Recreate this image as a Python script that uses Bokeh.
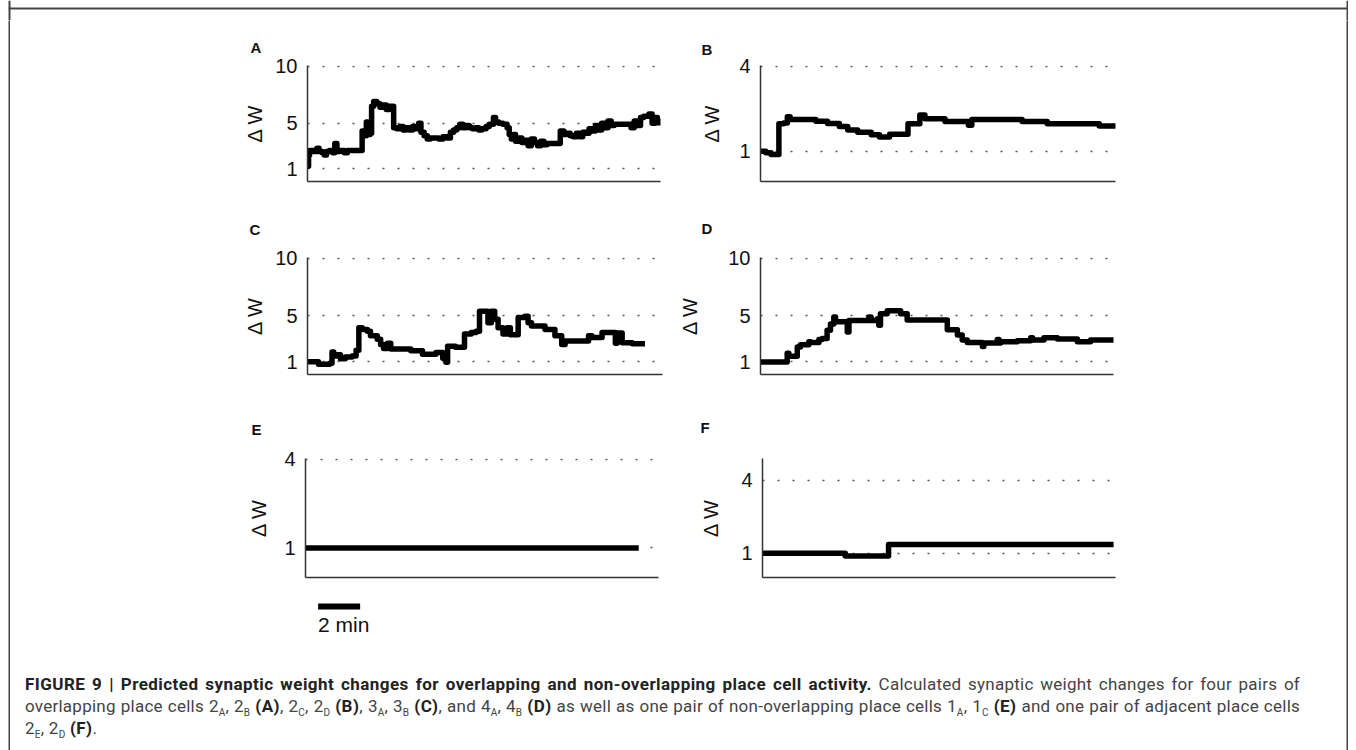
from bokeh.plotting import figure
from bokeh.models import Range1d, Title, Div
from bokeh.layouts import column, row
from bokeh.embed import file_html
from bokeh.resources import INLINE
from bokeh.core.properties import value

# ---------------- data (time in minutes, weight change ΔW) ----------------
a_t = [0.00, 0.05, 0.10, 0.30, 0.45, 0.55, 0.70, 0.80, 0.90, 1.05, 1.20, 1.30, 1.40, 1.55, 1.75,
       1.90, 2.10, 2.30, 2.45, 2.60, 2.70, 2.80, 2.88, 2.98, 3.05, 3.15, 3.30, 3.45, 3.60, 3.75,
       3.90, 4.10, 4.25, 4.40, 4.55, 4.70, 4.85, 5.00, 5.15, 5.29, 5.40, 5.55, 5.70, 5.85, 6.05,
       6.25, 6.45, 6.65, 6.80, 6.95, 7.10, 7.25, 7.40, 7.55, 7.70, 7.85, 8.00, 8.15, 8.30, 8.50,
       8.65, 8.85, 8.95, 9.10, 9.30, 9.50, 9.60, 9.70, 9.80, 9.90, 10.05, 10.20, 10.35, 10.50,
       10.65, 10.80, 10.95, 11.10, 11.25, 11.40, 11.55, 11.75, 11.95, 12.03, 12.20, 12.35, 12.50,
       12.65, 12.80, 12.95, 13.10, 13.25, 13.40, 13.55, 13.70, 13.85, 14.00, 14.15, 14.30, 14.45,
       14.60, 14.80, 15.00, 15.20, 15.40, 15.55, 15.70, 15.85, 16.00, 16.25, 16.40, 16.55, 16.65,
       16.75]
a_w = [1.2, 2.2, 2.6, 2.5, 2.8, 2.5, 2.4, 2.2, 2.5, 2.6, 2.4, 3.2, 2.5, 2.6, 2.4,
       2.6, 2.6, 2.6, 2.6, 4.3, 3.9, 5.1, 4.0, 4.1, 6.5, 6.9, 6.7, 6.4, 6.6, 6.2,
       6.5, 4.6, 4.5, 4.7, 4.4, 4.6, 4.4, 4.7, 4.5, 5.0, 4.2, 3.9, 3.6, 3.7, 3.7,
       3.6, 3.8, 3.7, 4.2, 4.4, 4.6, 4.9, 4.6, 4.8, 4.6, 4.5, 4.6, 4.4, 4.5, 4.7,
       4.9, 5.5, 5.1, 5.0, 4.9, 4.6, 4.0, 3.6, 4.0, 3.4, 3.7, 3.3, 3.5, 3.0,
       3.6, 3.3, 3.0, 3.4, 3.1, 3.2, 3.2, 3.2, 3.2, 4.3, 4.0, 4.1, 3.9,
       3.8, 4.1, 3.8, 4.2, 4.1, 4.5, 4.3, 4.8, 4.4, 5.0, 4.6, 5.2, 4.8,
       4.9, 4.9, 4.9, 4.9, 4.6, 5.2, 4.8, 5.5, 5.6, 5.8, 5.0, 5.5, 5.2,
       4.8]

b_t = [0.00, 0.25, 0.50, 0.87, 1.10, 1.27, 1.40, 2.62, 3.17, 3.73, 4.13, 4.60, 5.24, 5.63,
       6.11, 6.98, 7.54, 7.78, 8.73, 9.84, 10.00, 12.38, 13.57, 16.03, 16.83]
b_w = [1.00, 0.95, 0.88, 1.97, 2.00, 2.22, 2.12, 2.06, 1.98, 1.87, 1.75, 1.67, 1.58, 1.50,
       1.60, 1.97, 2.28, 2.15, 2.05, 1.92, 2.12, 2.05, 1.97, 1.89, 1.89]

c_t = [0.00, 0.52, 1.05, 1.16, 1.24, 1.40, 1.56, 1.79, 2.11, 2.30, 2.43, 2.59, 2.83, 2.98,
       3.30, 3.46, 3.60, 3.78, 3.94, 4.89, 5.44, 6.08, 6.40, 6.55, 6.63, 7.00, 7.43, 7.75,
       7.98, 8.14, 8.45, 8.54, 8.70, 8.86, 9.02, 9.25, 9.45, 9.60, 9.90, 9.97, 10.29, 10.44,
       10.60, 11.24, 11.71, 12.03, 12.19, 13.30, 13.46, 13.94, 14.57, 14.65, 14.89, 15.37,
       15.97]
c_w = [1.00, 0.78, 0.85, 1.85, 1.50, 1.60, 1.25, 1.40, 1.50, 2.00, 3.95, 3.80, 3.65, 3.25,
       2.95, 2.50, 2.15, 2.60, 2.10, 1.95, 1.65, 1.80, 1.30, 0.95, 2.35, 2.25, 3.40, 3.55,
       3.65, 5.40, 5.40, 4.40, 5.40, 4.70, 3.95, 3.40, 3.95, 3.35, 3.35, 4.85, 4.95, 4.40,
       4.10, 3.80, 3.25, 2.50, 2.80, 3.25, 3.10, 3.55, 2.60, 3.50, 2.65, 2.55,
       2.55]

d_t = [0.00, 1.27, 1.35, 1.75, 1.90, 2.30, 2.38, 2.78, 2.94, 3.17, 3.33, 3.49, 3.57, 4.13,
       4.21, 5.16, 5.26, 5.56, 5.63, 5.71, 6.03, 6.67, 6.98, 8.89, 9.37, 9.60, 9.84, 10.56,
       10.63, 11.27, 11.35, 11.43, 12.22, 12.86, 12.95, 13.49, 14.13, 15.08, 15.71, 16.83]
d_w = [1.00, 1.75, 1.50, 2.30, 2.50, 2.75, 2.70, 2.95, 3.05, 3.75, 4.30, 4.90, 4.50, 3.60,
       4.60, 4.90, 4.60, 4.75, 4.20, 5.20, 5.45, 5.20, 4.65, 3.80, 3.35, 2.90, 2.70, 2.35,
       2.65, 2.95, 2.65, 2.75, 2.85, 3.10, 2.90, 3.10, 3.00, 2.75, 2.90, 2.90]

e_t = [0.00, 15.86]
e_w = [1.00, 1.00]

f_t = [0.00, 3.94, 6.00, 16.71]
f_w = [1.00, 0.89, 1.36, 1.36]

ticks_10 = [1, 5, 10]
ticks_4 = [1, 4]
panel_labels = ["A", "B", "C", "D", "E", "F"]
y_label = "Δ W"
scale_bar_start = 0.6   # minutes
scale_bar_len = 2       # minutes
scale_bar_text = "2 min"

FONT = "Liberation Sans"
X_END = 16.8


def panel(label, t, w, yr, yticks, fw, fh, bl, br, bt, bb, lab_off, lab_stand, ylab_stand):
    p = figure(width=bl + fw + br, height=bt + fh + bb,
               x_range=Range1d(0, X_END), y_range=Range1d(*yr),
               output_backend="svg", toolbar_location=None,
               min_border_left=bl, min_border_right=br,
               min_border_top=bt, min_border_bottom=bb,
               outline_line_color=None, background_fill_color="white",
               border_fill_color="white")
    p.title = Title(text=label, align="left", offset=lab_off, standoff=lab_stand,
                    text_font=FONT, text_font_size="15px", text_font_style="bold",
                    text_color="#111")
    # y axis
    ya = p.yaxis[0]
    ya.ticker = yticks
    ya.major_tick_line_color = None
    ya.minor_tick_line_color = None
    ya.major_tick_out = 0
    ya.major_tick_in = 0
    ya.major_label_standoff = 10
    ya.major_label_text_font = FONT
    ya.major_label_text_font_size = "20px"
    ya.major_label_text_color = "#111"
    ya.axis_line_color = "#333"
    ya.axis_line_width = 1.5
    ya.axis_label = y_label
    ya.axis_label_text_font = FONT
    ya.axis_label_text_font_size = "20px"
    ya.axis_label_text_font_style = "normal"
    ya.axis_label_text_color = "#111"
    ya.axis_label_standoff = ylab_stand
    # x axis
    xa = p.xaxis[0]
    xa.ticker = []
    xa.major_tick_line_color = None
    xa.minor_tick_line_color = None
    xa.major_label_text_font_size = "0px"
    xa.axis_line_color = "#333"
    xa.axis_line_width = 1.5
    # grid
    p.xgrid.visible = False
    p.ygrid.grid_line_color = "#555"
    p.ygrid.grid_line_width = 1.5
    p.ygrid.grid_line_dash = "2 13"
    # trace
    p.step(t, w, mode="after", line_color="black", line_width=5.5, line_join="round")
    return p


# rows (page y): top strip 0..20, row 1 20..192, row 2 192..390, row 3 390..590
pA = panel(panel_labels[0], a_t, a_w, (-0.14, 10.08), ticks_10, 353, 116, 297, 10, 45, 11, -57, 19, 6)
pB = panel(panel_labels[1], b_t, b_w, (-0.07, 4.03), ticks_4, 355, 118, 90, 221, 43, 11, -59, 15, 13)
pC = panel(panel_labels[2], c_t, c_w, (-0.12, 10.08), ticks_10, 355, 117, 297, 8, 65, 16, -58, 40, 6)
pD = panel(panel_labels[3], d_t, d_w, (-0.09, 10.08), ticks_10, 353, 120, 90, 223, 62, 16, -59, 42, 24)
pE = panel(panel_labels[4], e_t, e_w, (0, 4.03), ticks_4, 353, 120, 295, 12, 67, 13, -54, 41, 11)
pF = panel(panel_labels[5], f_t, f_w, (0, 4.9), ticks_4, 353, 119, 92, 221, 68, 13, -62, 45, 16)

# scale bar panel (shares the time scale of panel E)
ps = figure(width=295 + 353 + 12, height=60, x_range=pE.x_range, y_range=Range1d(0, 60),
            output_backend="svg", toolbar_location=None,
            min_border_left=295, min_border_right=12, min_border_top=0, min_border_bottom=0,
            outline_line_color=None)
ps.axis.visible = False
ps.grid.visible = False
ps.segment(x0=[scale_bar_start], y0=[44], x1=[scale_bar_start + scale_bar_len], y1=[44],
           line_color="black", line_width=6)
ps.text(x=[scale_bar_start], y=[38], text=[scale_bar_text], text_font=value(FONT),
        text_font_size="21px", text_baseline="top", text_align="left", text_color="#111")

B = 'style="color:#222; letter-spacing:0.45px;"'
J = 'style="width:1275px; text-align:justify; text-align-last:justify; white-space:nowrap;"'
caption_html = (
    '<div style="font-family: Roboto, sans-serif; font-size: 17px; line-height: 22px; '
    'letter-spacing: 0.25px; color: #444; padding: 23px 0 0 15px;">'
    f'<div {J}><b {B}>FIGURE 9 | Predicted synaptic weight changes for overlapping and '
    'non-overlapping place cell activity.</b> Calculated synaptic weight changes for four pairs of</div>'
    f'<div {J}>overlapping place cells 2<sub>A</sub>, 2<sub>B</sub> <b {B}>(A)</b>, '
    f'2<sub>C</sub>, 2<sub>D</sub> <b {B}>(B)</b>, 3<sub>A</sub>, 3<sub>B</sub> '
    f'<b {B}>(C)</b>, and 4<sub>A</sub>, 4<sub>B</sub> <b {B}>(D)</b> '
    'as well as one pair of non-overlapping place cells 1<sub>A</sub>, 1<sub>C</sub> '
    f'<b {B}>(E)</b> and one pair of adjacent place cells</div>'
    f'<div style="white-space:nowrap;">2<sub>E</sub>, 2<sub>D</sub> <b {B}>(F)</b>.</div>'
    '</div>'
)
caption_html = caption_html.replace('<sub>', '<sub style="font-size:10px; line-height:0;">')
caption = Div(text=caption_html, width=1336, height=99, margin=0)

inner = column(
    row(pA, pB),
    row(pC, pD),
    row(pE, pF),
    row(ps),
    caption,
)


def strip(w, h):
    f = figure(width=w, height=h, x_range=Range1d(0, 1), y_range=Range1d(0, 1),
               x_axis_type=None, y_axis_type=None,
               output_backend="svg", toolbar_location=None, min_border=0,
               background_fill_color="#444", border_fill_color="#444",
               outline_line_color=None)
    f.grid.visible = False
    return f


# top strip (page y 0..20): frame line across it at page y 7..9
top = figure(width=1340, height=20, x_range=Range1d(0, 1), y_range=Range1d(0, 20),
             x_axis_type=None, y_axis_type=None,
             output_backend="svg", toolbar_location=None, min_border=0,
             background_fill_color="white", border_fill_color="white",
             outline_line_color=None)
top.grid.visible = False
top.hspan(y=[12], line_color="#444", line_width=2)
top.vspan(x=[0, 1], line_color="#444", line_width=4)

layout = column(top,
                row(strip(2, 730), inner, strip(2, 730)),
                margin=(0, 0, 0, 8))

open("out.html", "w").write(file_html(layout, INLINE))
